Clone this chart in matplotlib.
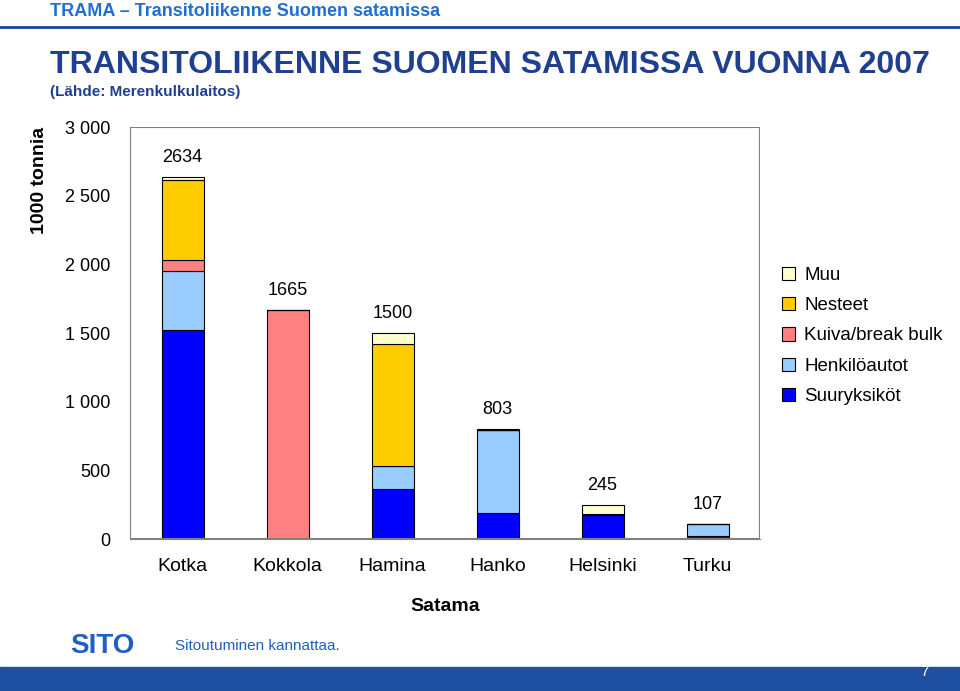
import matplotlib.pyplot as plt
import numpy as np

plt.rcParams["font.family"] = "Liberation Sans"

ports = ["Kotka", "Kokkola", "Hamina", "Hanko", "Helsinki", "Turku"]
totals = [2634, 1665, 1500, 803, 245, 107]
suuryksikot = [1521, 0, 364, 189, 175, 22]
henkiloautot = [430, 0, 167, 605, 10, 85]
kuiva = [80, 1665, 0, 0, 0, 0]
nesteet = [583, 0, 889, 0, 0, 0]
muu = [20, 0, 80, 9, 60, 0]

series = [("Suuryksiköt", suuryksikot, "#0000FF"),
          ("Henkilöautot", henkiloautot, "#99CCFF"),
          ("Kuiva/break bulk", kuiva, "#FF8080"),
          ("Nesteet", nesteet, "#FFCC00"),
          ("Muu", muu, "#FFFFCC")]

fig = plt.figure(figsize=(9.6, 6.91), dpi=100)
ax = fig.add_axes([130/960, 1-539/691, 630/960, 412/691])
x = np.arange(len(ports))
bottom = np.zeros(len(ports))
handles = []
for name, vals, col in series:
    h = ax.bar(x, vals, 0.4, bottom=bottom, color=col, edgecolor="black", linewidth=0.8, label=name)
    handles.append(h)
    bottom += np.array(vals)
for xi, t in zip(x, totals):
    ax.text(xi, t + 80, str(t), ha="center", va="bottom", fontsize=13)

ax.set_xlim(-0.5, 5.5)
ax.set_ylim(0, 3000)
ax.set_yticks(range(0, 3001, 500))
ax.set_yticklabels(["0", "500", "1 000", "1 500", "2 000", "2 500", "3 000"], fontsize=13)
ax.set_xticks(x)
ax.set_xticklabels(ports, fontsize=14)
ax.tick_params(length=0, pad=14)
ax.set_xlabel("Satama", fontsize=14, fontweight="bold", labelpad=16)
ax.set_ylabel("1000 tonnia", fontsize=14, fontweight="bold")
ax.yaxis.set_label_coords(-0.13, 0.87)
for s in ["top", "right"]:
    ax.spines[s].set_visible(False)
ax.spines["left"].set_color("#808080")
ax.spines["bottom"].set_color("#808080")
ax.add_patch(plt.Rectangle((0, 0), 1, 1, transform=ax.transAxes, fill=False, edgecolor="#808080", lw=1.5))

fig.legend(handles[::-1], [s[0] for s in series][::-1], loc="upper left",
           bbox_to_anchor=(765/960, 1-250/691), frameon=False, fontsize=13.5,
           handlelength=0.7, handleheight=0.7, labelspacing=0.7, handletextpad=0.5)

fig.text(50/960, 1-12/691, "TRAMA – Transitoliikenne Suomen satamissa", color="#1F6FD0",
         fontsize=13, fontweight="bold", va="center")
fig.text(50/960, 1-65/691, "TRANSITOLIIKENNE SUOMEN SATAMISSA VUONNA 2007", color="#1F3F8F",
         fontsize=23, fontweight="bold", va="center")
fig.text(50/960, 1-92/691, "(Lähde: Merenkulkulaitos)", color="#1F3F8F",
         fontsize=11, fontweight="bold", va="center")
fig.add_artist(plt.Line2D([0, 1], [1-27/691, 1-27/691], color="#1F3F8F", lw=2))
fig.text(70/960, 1-646/691, "SITO", color="#1F5FBF", fontsize=20, fontweight="bold", va="center")
fig.text(175/960, 1-646/691, "Sitoutuminen kannattaa.", color="#1F5FBF", fontsize=11, va="center")
fig.add_artist(plt.Rectangle((0, 0), 1, 24/691, color="#1F4FA0"))
fig.text(920/960, 1-672/691, "7", color="white", fontsize=11, va="center")

fig.savefig("out.png", dpi=100)
